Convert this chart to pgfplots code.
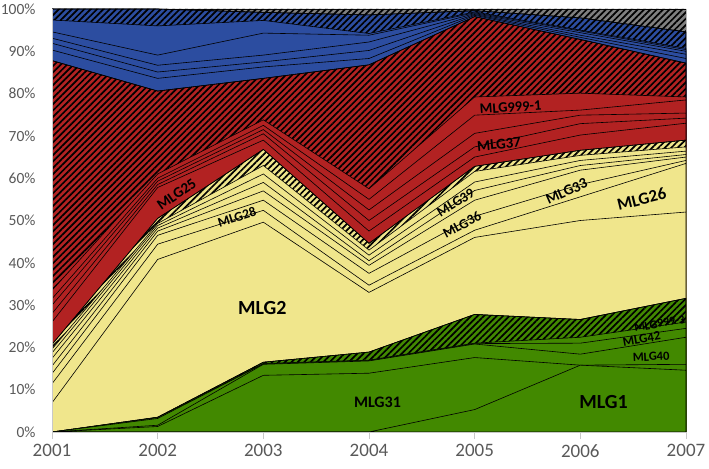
\documentclass[border=0pt]{standalone}
\usepackage{pgfplots}
\pgfplotsset{compat=1.18}
\usepackage{pgfplotstable}
\usepackage{fontspec}
\setmainfont{Carlito}
\usetikzlibrary{patterns.meta}
\definecolor{cgreen}{RGB}{66,137,0}
\definecolor{cyellow}{RGB}{240,230,140}
\definecolor{cred}{RGB}{178,34,34}
\definecolor{cblue}{RGB}{44,77,160}
\definecolor{cgray}{RGB}{128,128,128}
\definecolor{tickgray}{RGB}{89,89,89}
\definecolor{axgray}{RGB}{200,200,200}
\pgfplotstableread{
year top yb x2 x w v u t s r q p o n m l k j i h g f e d c b a
2001 100 100  97.4 94.6 93.1 91.9 90.3 87.8 33.5 31.5 30.0 28.0 26.0 20.7 19.6 18.7 17.4 15.6 13.8 11.4  6.9  0.0  0.0  0.0  0.0  0.0  0.0
2002 100 100  96.0 89.1 86.7 85.1 83.6 80.6 61.0 60.0 59.3 58.5 57.8 50.5 49.3 48.8 48.2 47.5 46.5 44.4 40.8  3.5  3.4  3.2  1.6  1.3  0.0
2003 100 99.2 97.3 94.3 89.1 87.5 86.3 83.6 73.8 72.5 71.5 70.5 69.0 66.8 63.0 61.0 59.0 57.0 54.8 52.4 49.6 16.5 16.2 16.1 16.0 13.4  0.0
2004 100 98.6 94.2 93.8 92.2 90.2 88.3 86.8 57.5 55.0 52.5 50.0 47.5 44.6 43.0 41.8 40.5 39.4 37.5 34.7 33.0 18.9 17.0 16.9 16.8 13.9  0.0
2005 100 99.6 99.3 99.1 98.9 98.7 98.5 98.2 79.2 74.9 70.6 67.4 65.0 62.8 61.6 59.1 57.1 54.8 51.0 47.7 46.0 27.8 21.0 20.9 20.8 17.6  5.3
2006 100 97.9 95.0 94.8 94.4 93.8 93.3 92.8 80.1 76.1 74.9 72.9 70.2 66.6 65.4 64.2 63.0 61.9 58.5 55.6 50.0 26.6 22.4 21.0 18.4 15.8 15.8
2007 100 94.6 90.7 90.4 90.0 89.3 88.3 87.2 79.2 78.5 75.4 74.2 73.0 69.0 67.4 66.4 65.6 65.0 64.2 63.5 52.0 31.6 26.0 24.5 22.4 16.0 14.6
}\data
\tikzset{
  hatch/.style={postaction={pattern color=black, pattern={Lines[angle=45,distance=4.5bp,line width=1.7bp]}}},
  lay/.style={draw=black, line width=0.6bp, fill=#1},
  lbl/.style={font=\bfseries\fontsize{#1}{#1}\selectfont, text=black, inner sep=0pt},
}
\begin{document}
\begin{tikzpicture}
\useasboundingbox (-52bp,-37bp) rectangle (657bp,432bp);
\begin{axis}[
  scale only axis, width=634bp, height=423bp,
  xmin=2001, xmax=2007, ymin=0, ymax=100,
  axis on top, no markers,
  axis x line*=bottom, axis y line*=left,
  axis line style={axgray, line width=0.8bp},
  xtick={2001,2002,2003,2004,2005,2006,2007},
  xticklabels={2001,2002,2003,2004,2005,2006,2007},
  ytick={0,10,20,30,40,50,60,70,80,90,100},
  yticklabels={0\%,10\%,20\%,30\%,40\%,50\%,60\%,70\%,80\%,90\%,100\%},
  /pgf/number format/assume math mode=true,
  tick align=outside,
  major tick length=7bp,
  x tick style={axgray, line width=0.8bp},
  y tick style={draw=none},
  xticklabel style={font=\fontsize{19bp}{22bp}\selectfont, text=tickgray, yshift=-2bp},
  yticklabel style={font=\fontsize{15.5bp}{18bp}\selectfont, text=tickgray, xshift=-6bp},
]
\addplot[lay=cgray, hatch] table[x=year,y=top] {\data} \closedcycle;
\addplot[lay=cblue, hatch] table[x=year,y=yb] {\data} \closedcycle;
\addplot[lay=cblue] table[x=year,y=x2] {\data} \closedcycle;
\addplot[lay=cblue] table[x=year,y=x] {\data} \closedcycle;
\addplot[lay=cblue] table[x=year,y=w] {\data} \closedcycle;
\addplot[lay=cblue] table[x=year,y=v] {\data} \closedcycle;
\addplot[lay=cblue] table[x=year,y=u] {\data} \closedcycle;
\addplot[lay=cred, hatch] table[x=year,y=t] {\data} \closedcycle;
\addplot[lay=cred] table[x=year,y=s] {\data} \closedcycle;
\addplot[lay=cred] table[x=year,y=r] {\data} \closedcycle;
\addplot[lay=cred] table[x=year,y=q] {\data} \closedcycle;
\addplot[lay=cred] table[x=year,y=p] {\data} \closedcycle;
\addplot[lay=cred] table[x=year,y=o] {\data} \closedcycle;
\addplot[lay=cyellow, hatch] table[x=year,y=n] {\data} \closedcycle;
\addplot[lay=cyellow] table[x=year,y=m] {\data} \closedcycle;
\addplot[lay=cyellow] table[x=year,y=l] {\data} \closedcycle;
\addplot[lay=cyellow] table[x=year,y=k] {\data} \closedcycle;
\addplot[lay=cyellow] table[x=year,y=j] {\data} \closedcycle;
\addplot[lay=cyellow] table[x=year,y=i] {\data} \closedcycle;
\addplot[lay=cyellow] table[x=year,y=h] {\data} \closedcycle;
\addplot[lay=cyellow] table[x=year,y=g] {\data} \closedcycle;
\addplot[lay=cgreen, hatch] table[x=year,y=f] {\data} \closedcycle;
\addplot[lay=cgreen] table[x=year,y=e] {\data} \closedcycle;
\addplot[lay=cgreen] table[x=year,y=d] {\data} \closedcycle;
\addplot[lay=cgreen] table[x=year,y=c] {\data} \closedcycle;
\addplot[lay=cgreen] table[x=year,y=b] {\data} \closedcycle;
\addplot[lay=cgreen] table[x=year,y=a] {\data} \closedcycle;
\node[lbl=20bp] at (axis cs:2002.99,29.3) {MLG2};
\node[lbl=20bp] at (axis cs:2006.22,7.0) {MLG1};
\node[lbl=16bp] at (axis cs:2004.08,7.0) {MLG31};
\node[lbl=17bp, rotate=14] at (axis cs:2006.58,55.05) {MLG26};
\node[lbl=15bp, rotate=24] at (axis cs:2005.87,56.9) {MLG33};
\node[lbl=14bp, rotate=32] at (axis cs:2004.82,54.2) {MLG39};
\node[lbl=14bp, rotate=28] at (axis cs:2004.88,49.0) {MLG36};
\node[lbl=13.5bp, rotate=18] at (axis cs:2002.75,50.8) {MLG28};
\node[lbl=15bp, rotate=35] at (axis cs:2002.18,56.2) {MLG25};
\node[lbl=15bp, rotate=5] at (axis cs:2005.23,68.0) {MLG37};
\node[lbl=14.5bp, rotate=4] at (axis cs:2005.34,76.8) {MLG999-1};
\node[lbl=12bp, rotate=10] at (axis cs:2006.75,25.6) {MLG999-3};
\node[lbl=13bp, rotate=10] at (axis cs:2006.58,22.0) {MLG42};
\node[lbl=12.5bp, rotate=3] at (axis cs:2006.67,17.8) {MLG40};
\end{axis}
\end{tikzpicture}
\end{document}
